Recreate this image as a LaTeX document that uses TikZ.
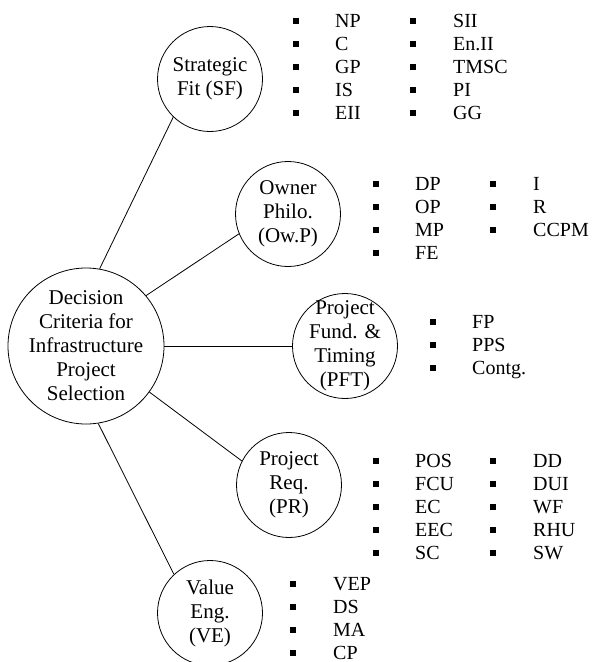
\documentclass[tikz,border=0pt]{standalone}
\usepackage{fontspec}
\setmainfont{Liberation Serif}
\usepackage{array}
\usetikzlibrary{positioning}
\newcommand{\sqbul}{\rule[3.5pt]{5.5pt}{5.5pt}}

\begin{document}
\begin{tikzpicture}[x=1pt,y=-1pt,
  crit/.style={draw,circle,line width=0.8pt,inner sep=-8pt,minimum size=105pt,align=center,font=\fontsize{21}{24}\selectfont},
  root/.style={crit,minimum size=156pt},
  items/.style={anchor=base west,inner sep=0pt,font=\fontsize{20}{23}\selectfont},
  link/.style={line width=0.8pt}]
\useasboundingbox (0,0) rectangle (595,662);

% criteria circles
\node[root] (dc) at (86,346) {Decision\\Criteria for\\Infrastructure\\Project\\Selection};
\node[crit] (sf) at (210,79) {Strategic\\Fit (SF)};
\node[crit] (owp) at (288,214) {Owner\\Philo.\\(Ow.P)};
\node[crit] (pft) at (345,346) {Project\\Fund. \&\\Timing\\(PFT)};
\node[crit] (pr) at (289,485) {Project\\Req.\\(PR)};
\node[crit] (ve) at (210,613) {Value\\Eng.\\(VE)};

% sub-criteria lists
\node[items] (sflist) at (293,27) {\begin{tabular}[t]{@{}p{42pt}@{}p{75pt}@{}p{43pt}@{}l@{}}
\sqbul & NP & \sqbul & SII\\
\sqbul & C & \sqbul & En.II\\
\sqbul & GP & \sqbul & TMSC\\
\sqbul & IS & \sqbul & PI\\
\sqbul & EII & \sqbul & GG
\end{tabular}};
\node[items] (owplist) at (373,190) {\begin{tabular}[t]{@{}p{42pt}@{}p{75pt}@{}p{43pt}@{}l@{}}
\sqbul & DP & \sqbul & I\\
\sqbul & OP & \sqbul & R\\
\sqbul & MP & \sqbul & CCPM\\
\sqbul & FE & &
\end{tabular}};
\node[items] (pftlist) at (430,328) {\begin{tabular}[t]{@{}p{42pt}@{}l@{}}
\sqbul & FP\\
\sqbul & PPS\\
\sqbul & Contg.
\end{tabular}};
\node[items] (prlist) at (373,467) {\begin{tabular}[t]{@{}p{42pt}@{}p{75pt}@{}p{43pt}@{}l@{}}
\sqbul & POS & \sqbul & DD\\
\sqbul & FCU & \sqbul & DUI\\
\sqbul & EC & \sqbul & WF\\
\sqbul & EEC & \sqbul & RHU\\
\sqbul & SC & \sqbul & SW
\end{tabular}};
\node[items] (velist) at (290,590) {\begin{tabular}[t]{@{}p{43pt}@{}l@{}}
\sqbul & VEP\\
\sqbul & DS\\
\sqbul & MA\\
\sqbul & CP
\end{tabular}};

% connectors
\draw[link] (dc.80) -- (sf.226);
\draw[link] (dc.40) -- (owp.202);
\draw[link] (dc.east) -- (pft.west);
\draw[link] (dc.-36) -- (pr.153);
\draw[link] (dc.-81) -- (ve.133);
\end{tikzpicture}
\end{document}
